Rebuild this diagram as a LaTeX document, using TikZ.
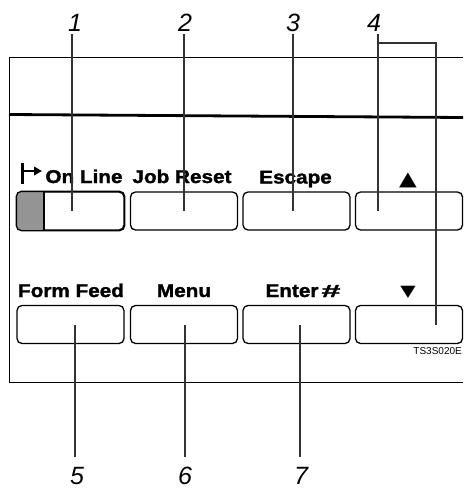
\documentclass[tikz,border=0pt]{standalone}
\usepackage{fontspec}
\setmainfont{Liberation Sans}
\newfontfamily\lab[FakeStretch=1.12,FakeBold=1.6]{Liberation Sans Bold}
\newfontfamily\symf{DejaVu Sans}
\usetikzlibrary{arrows.meta}
\tikzset{
  btn/.style={draw, line width=1.3pt, rounded corners=5pt, fill=white,
    minimum width=107pt, minimum height=38pt, inner sep=0pt},
  keylab/.style={anchor=base, inner sep=0pt, font=\lab\fontsize{18.5}{20}\selectfont},
  numlab/.style={anchor=base, inner sep=0pt, font=\itshape\fontsize{25}{28}\selectfont},
  callout/.style={line width=1.1pt, draw=black!80},
  frame/.style={line width=0.9pt}
}
\begin{document}
\begin{tikzpicture}[x=1pt,y=-1pt]
\useasboundingbox (0,0) rectangle (463,489);
% frame
\draw[frame] (463,57) -- (9,57) -- (9,382) -- (463,382);
\draw[line width=2.8pt] (9,114.5) -- (463,117.5);
% buttons row 1
\node[btn] (b1) at (70.5,211) {};
\node[btn] (b2) at (184,211) {};
\node[btn] (b3) at (296.5,211) {};
\node[btn] (b4) at (409,211) {};
% buttons row 2
\node[btn] (b5) at (70.5,324.5) {};
\node[btn] (b6) at (184,324.5) {};
\node[btn] (b7) at (296.5,324.5) {};
\node[btn] (b8) at (409,324.5) {};
% gray part of On Line key
\begin{scope}
  \clip[rounded corners=5pt] (b1.north west) rectangle (b1.south east);
  \fill[black!42] (b1.north west) rectangle (44,230);
\end{scope}
\draw[line width=1.1pt] (44,192) -- (44,230);
\draw[line width=1.3pt, rounded corners=5pt] (b1.north west) rectangle (b1.south east);
% key labels row 1
\draw[line width=2.8pt] (22.3,162.5) -- (22.3,183.5);
\draw[line width=2pt, -{Triangle[length=8pt,width=8.5pt]}] (23,171) -- (42,171);
\node[keylab] (l1) at (84,183) {On Line};
\node[keylab] (l2) at (182,183) {Job Reset};
\node[keylab] (l3) at (295.5,183.5) {Escape};
\node[anchor=base, inner sep=0pt] (l4) at (408,185) {\symf\fontsize{23}{24}\selectfont\scalebox{1}[0.85]{▲}};
% key labels row 2
\node[keylab] (l5) at (71,297) {Form Feed};
\node[keylab] (l6) at (184,297) {Menu};
\node[keylab] (l7) at (303,297) {Enter\hspace{3pt}\scalebox{1.65}[0.95]{\#}};
\node[anchor=base, inner sep=0pt] (l8) at (408,296) {\symf\fontsize{20}{22}\selectfont\scalebox{1}[0.8]{▼}};
\node[anchor=base east, inner sep=0pt, font=\fontsize{10}{12}\selectfont] (code) at (462,354) {TS3S020E};
% numbers
\node[numlab] (n1) at (75,32) {1};
\node[numlab] (n2) at (185,32) {2};
\node[numlab] (n3) at (293,32) {3};
\node[numlab] (n4) at (374,32) {4};
\node[numlab] (n5) at (77,484) {5};
\node[numlab] (n6) at (185,484) {6};
\node[numlab] (n7) at (301,484) {7};
% callout ends
\coordinate (t1) at (72,34);
\coordinate (t2) at (184,34);
\coordinate (t3) at (293,34);
\coordinate (t4) at (378,34);
\coordinate (t4r) at (436,43);
\coordinate (t5) at (75,457);
\coordinate (t6) at (185,457);
\coordinate (t7) at (300,457);
% callouts
\draw[callout] (t1) -- (t1 |- b1.center);
\draw[callout] (t2) -- (t2 |- b2.center);
\draw[callout] (t3) -- (t3 |- b3.center);
\draw[callout] (t4) -- (t4 |- b4.center);
\draw[callout] (t4 |- t4r) -- (t4r) -- (t4r |- b8.center);
\draw[callout] (t5) -- (t5 |- b5.center);
\draw[callout] (t6) -- (t6 |- b6.center);
\draw[callout] (t7) -- (t7 |- b7.center);
\end{tikzpicture}
\end{document}
